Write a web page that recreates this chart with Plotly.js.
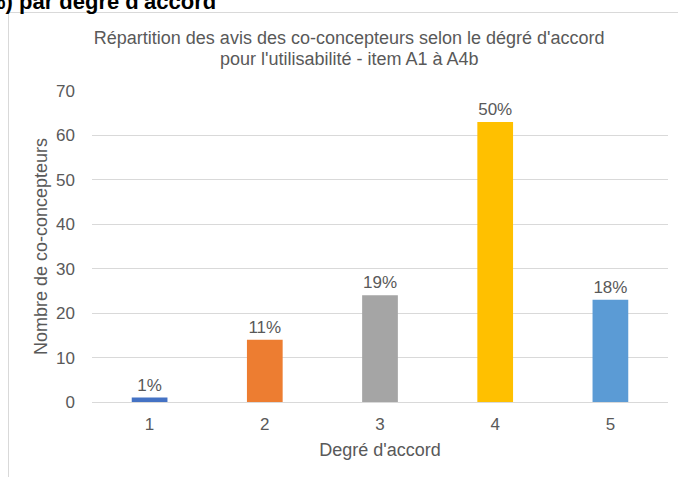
<!DOCTYPE html>
<html>
<head>
<meta charset="utf-8">
<script src="https://cdn.plot.ly/plotly-3.0.1.min.js"></script>
<style>
  html, body { margin: 0; padding: 0; width: 678px; height: 477px; overflow: hidden; background: #ffffff; }
  #frame { position: absolute; left: 8px; top: 12px; width: 720px; height: 520px; border-left: 1px solid #d9d9d9; border-top: 1px solid #d9d9d9; }
  #plot { position: absolute; left: 0; top: 0; width: 678px; height: 477px; }
  #head { position: absolute; left: -14px; top: -9px; font: bold 22px "Liberation Sans", Arial, sans-serif; line-height: 22px; color: #000; white-space: nowrap; }
</style>
</head>
<body>
<div id="frame"></div>
<div id="plot"></div>
<div id="head">%) par degré d'accord</div>
<script>
const categories = ["1", "2", "3", "4", "5"];
const counts = [1, 14, 24, 63, 23];
const pctLabels = ["1%", "11%", "19%", "50%", "18%"];
const barColors = ["#4472C4", "#ED7D31", "#A5A5A5", "#FFC000", "#5B9BD5"];
const yTicks = [0, 10, 20, 30, 40, 50, 60, 70];
const titleLine1 = "Répartition des avis des co-concepteurs selon le dégré d'accord";
const titleLine2 = "pour l'utilisabilité - item A1 à A4b";

const font = "Liberation Sans, Arial, sans-serif";
const grey = "#595959";

const trace = {
  type: "bar",
  x: categories,
  y: counts,
  text: pctLabels,
  textposition: "outside",
  cliponaxis: false,
  textfont: { family: font, size: 17, color: grey },
  marker: { color: barColors },
  hoverinfo: "none"
};

const layout = {
  width: 678, height: 477,
  margin: { l: 92, r: 10, t: 91, b: 75 },
  paper_bgcolor: "rgba(0,0,0,0)",
  plot_bgcolor: "rgba(0,0,0,0)",
  bargap: 0.69,
  showlegend: false,
  title: {
    text: titleLine1,
    font: { family: font, size: 18, color: grey },
    x: 0.515, xanchor: "center", xref: "container",
    y: 1 - 38 / 477, yanchor: "middle", yref: "container"
  },
  annotations: [{
    text: titleLine2,
    font: { family: font, size: 18, color: grey },
    xref: "paper", yref: "paper",
    x: (349 - 92) / 576, y: (402 - 59) / 311,
    xanchor: "center", yanchor: "middle",
    showarrow: false
  }],
  xaxis: {
    type: "category",
    showgrid: false,
    showline: true, linecolor: "#d9d9d9", linewidth: 1,
    zeroline: false,
    ticks: "",
    ticklabelstandoff: 7,
    tickfont: { family: font, size: 17, color: grey },
    title: { text: "Degré d'accord", font: { family: font, size: 18, color: grey }, standoff: 9 },
    automargin: false
  },
  yaxis: {
    range: [0, 70],
    tickvals: yTicks,
    showgrid: true, gridcolor: "#d9d9d9", gridwidth: 1,
    zeroline: false, showline: false,
    ticks: "",
    ticklabelstandoff: 16,
    tickfont: { family: font, size: 17, color: grey },
    title: { text: "Nombre de co-concepteurs", font: { family: font, size: 18, color: grey }, standoff: 3 },
    automargin: false
  }
};

Plotly.newPlot("plot", [trace], layout, { staticPlot: true, displayModeBar: false });
</script>
</body>
</html>
